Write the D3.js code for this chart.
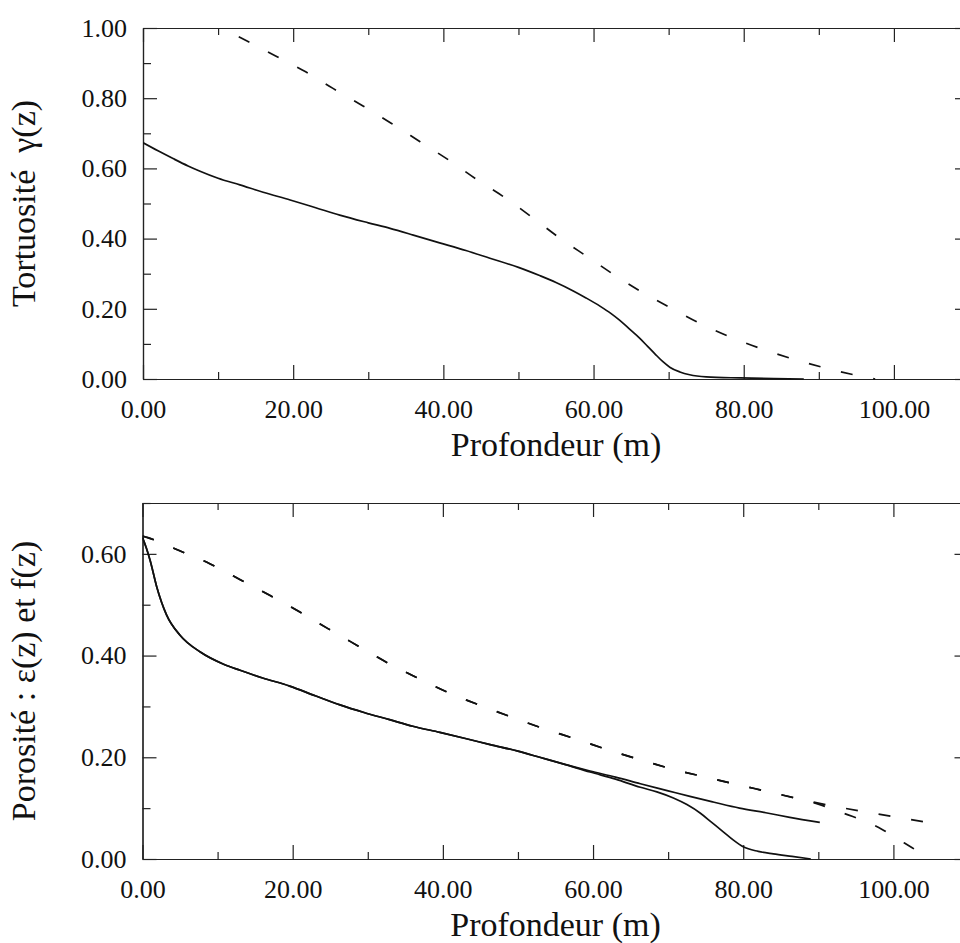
<!DOCTYPE html>
<html>
<head>
<meta charset="utf-8">
<script src="https://cdn.jsdelivr.net/npm/d3@7/dist/d3.min.js"></script>
<style>
  html, body { margin: 0; padding: 0; background: #fff; }
  svg { display: block; }
</style>
</head>
<body>
<svg id="chart" width="960" height="943"></svg>
<script>
// ---------------- DATA ----------------
const xMajorTicks = [0, 20, 40, 60, 80, 100];
const xTickLabels = ["0.00", "20.00", "40.00", "60.00", "80.00", "100.00"];
const xMinorTicks = [10, 30, 50, 70, 90, 110];

const topYMajor = [0, 0.2, 0.4, 0.6, 0.8, 1.0];
const topYLabels = ["0.00", "0.20", "0.40", "0.60", "0.80", "1.00"];
const topYMinor = [0.1, 0.3, 0.5, 0.7, 0.9];

const botYMajor = [0, 0.2, 0.4, 0.6];
const botYLabels = ["0.00", "0.20", "0.40", "0.60"];
const botYMinor = [0.1, 0.3, 0.5, 0.7];

const xTitle = "Profondeur (m)";
const topYTitle = "Tortuosité  γ(z)";
const botYTitle = "Porosité : ε(z) et f(z)";

// Tortuosity γ(z): solid
const tortSolid = [
  [0,0.673],[2,0.650],[4,0.628],[6,0.607],[7.6,0.592],[10,0.572],[12.9,0.553],[16,0.532],
  [19.6,0.510],[23,0.488],[26.2,0.467],[30,0.445],[32.9,0.429],[36,0.410],[39.5,0.388],
  [43,0.366],[46.2,0.344],[50,0.318],[52.9,0.294],[55,0.275],[57.3,0.251],[59,0.231],
  [60.9,0.207],[62.3,0.187],[63.5,0.167],[64.8,0.142],[66.2,0.115],[67.2,0.093],[68.2,0.071],
  [69.2,0.050],[70.2,0.033],[71.5,0.020],[72.8,0.012],[75,0.006],[79.5,0.003],[84,0.001],[88,0.0]
];
// Tortuosity: dashed
const tortDashed = [
  [10.5,1.0],[13.6,0.966],[17.6,0.921],[21.6,0.876],[25.3,0.828],[29.3,0.778],[33.1,0.728],
  [36.9,0.676],[40.7,0.624],[44.4,0.569],[48.1,0.518],[51.8,0.461],[55.4,0.403],[59.2,0.348],
  [62.8,0.296],[66.5,0.247],[70.5,0.200],[74.5,0.155],[78.6,0.116],[82.8,0.083],[87.2,0.053],
  [91.5,0.028],[95.8,0.007],[97.5,0.0]
];

// Porosity: solid curves (shared trunk, then two branches)
const poroSolidTrunk = [
  [0,0.632],[0.5,0.612],[1.0,0.588],[1.9,0.535],[3.2,0.480],[5.0,0.440],[7.7,0.407],
  [10.8,0.383],[13.0,0.371],[16,0.356],[19.6,0.340],[23,0.321],[26.3,0.303],[29.5,0.288],
  [32.9,0.274],[36,0.261],[39.6,0.249],[43,0.237],[46.3,0.225],[50,0.212],[52.9,0.200],
  [56,0.187]
];
const epsSolidTail = [
  [59.6,0.173],[63,0.161],[66.3,0.148],[70,0.134],[72.9,0.123],[76,0.112],[79.5,0.100],
  [83,0.091],[86.2,0.082],[90.2,0.072]
];
const fSolidTail = [
  [59.6,0.171],[63,0.157],[66.3,0.141],[68.5,0.132],[70.7,0.120],[72.5,0.107],[74.3,0.090],
  [75.8,0.072],[77.3,0.054],[78.7,0.037],[80,0.024],[82,0.015],[84,0.010],[86.5,0.005],[89,0.0]
];

// Porosity: dashed curves (shared trunk, then two branches)
const poroDashedTrunk = [
  [0,0.635],[0.7,0.632],[4.8,0.607],[8.9,0.581],[12.9,0.550],[17.0,0.518],[20.9,0.486],
  [24.7,0.453],[28.7,0.419],[32.6,0.386],[36.5,0.357],[40.6,0.328],[44.8,0.303],[49.0,0.280],
  [53.3,0.257],[57.7,0.236],[61.9,0.215],[66.1,0.196],[70.5,0.177],[75,0.161],[79.3,0.146],
  [83.7,0.131],[88,0.116]
];
const epsDashedTail = [[92,0.104],[96.9,0.091],[101.3,0.080],[105.3,0.070]];
const fDashedTail = [
  [90,0.108],[92.4,0.095],[94.5,0.084],[96.6,0.072],[98.5,0.058],[100.4,0.041],
  [102.5,0.022],[104.4,0.005],[105,0.0]
];

// ---------------- DRAW ----------------
const svg = d3.select("#chart");
const FONT = 26, TITLE = 34;
const FAMILY = "Liberation Serif";

function panel(cfg) {
  const x = d3.scaleLinear().domain([0, 110]).range([cfg.left, cfg.left + 826]);
  const y = d3.scaleLinear().domain(cfg.yDomain).range([cfg.bottom, cfg.top]);
  const g = svg.append("g");
  const clipId = "clip" + cfg.id;
  svg.append("clipPath").attr("id", clipId).append("rect")
    .attr("x", cfg.left).attr("y", cfg.top - 1)
    .attr("width", 826).attr("height", cfg.bottom - cfg.top + 2);

  function styleAxis(sel) {
    sel.attr("font-family", FAMILY).attr("font-size", FONT);
    sel.selectAll("path.domain").attr("stroke", "#222").attr("stroke-width", 1.2);
    sel.selectAll(".tick line").attr("stroke", "#222").attr("stroke-width", 1.2);
    sel.selectAll("text").attr("font-family", FAMILY).style("font-family", FAMILY)
      .attr("font-size", FONT).style("font-size", FONT + "px").attr("fill", "#111");
  }

  // bottom axis
  g.append("g").attr("transform", `translate(0,${cfg.bottom})`)
    .call(d3.axisBottom(x).tickValues(xMajorTicks).tickSize(-14).tickSizeOuter(0)
      .tickPadding(21).tickFormat((d, i) => xTickLabels[i]))
    .call(styleAxis);
  g.append("g").attr("transform", `translate(0,${cfg.bottom})`)
    .call(d3.axisBottom(x).tickValues(xMinorTicks).tickSize(-7).tickSizeOuter(0).tickFormat(""))
    .call(styleAxis);
  // top axis
  g.append("g").attr("transform", `translate(0,${cfg.top})`)
    .call(d3.axisTop(x).tickValues(xMajorTicks).tickSize(-14).tickSizeOuter(0).tickFormat(""))
    .call(styleAxis);
  g.append("g").attr("transform", `translate(0,${cfg.top})`)
    .call(d3.axisTop(x).tickValues(xMinorTicks).tickSize(-7).tickSizeOuter(0).tickFormat(""))
    .call(styleAxis);
  // left axis
  g.append("g").attr("transform", `translate(${cfg.left},0)`)
    .call(d3.axisLeft(y).tickValues(cfg.yMajor).tickSize(-14).tickSizeOuter(0)
      .tickPadding(16).tickFormat((d, i) => cfg.yLabels[i]))
    .call(styleAxis);
  g.append("g").attr("transform", `translate(${cfg.left},0)`)
    .call(d3.axisLeft(y).tickValues(cfg.yMinor).tickSize(-8).tickSizeOuter(0).tickFormat(""))
    .call(styleAxis);
  // right axis
  g.append("g").attr("transform", `translate(${x(110)},0)`)
    .call(d3.axisRight(y).tickValues(cfg.yMajor).tickSize(-14).tickSizeOuter(0).tickFormat(""))
    .call(styleAxis);
  g.append("g").attr("transform", `translate(${x(110)},0)`)
    .call(d3.axisRight(y).tickValues(cfg.yMinor).tickSize(-8).tickSizeOuter(0).tickFormat(""))
    .call(styleAxis);

  // titles
  g.append("text").attr("x", x(55)).attr("y", cfg.bottom + 77)
    .attr("text-anchor", "middle").attr("fill", "#111")
    .style("font-family", FAMILY).style("font-size", TITLE + "px").text(xTitle);
  g.append("text")
    .attr("transform", `translate(35,${(cfg.top + cfg.bottom) / 2}) rotate(-90)`)
    .attr("text-anchor", "middle").attr("fill", "#111")
    .style("font-family", FAMILY).style("font-size", TITLE + "px")
    .style("white-space", "pre").text(cfg.yTitle);

  const line = d3.line().x(d => x(d[0])).y(d => y(d[1])).curve(d3.curveMonotoneX);
  const lg = g.append("g").attr("clip-path", `url(#${clipId})`);
  cfg.series.forEach(s => {
    lg.append("path").attr("d", line(s.data)).attr("fill", "none")
      .attr("stroke", "#111").attr("stroke-width", 1.7)
      .attr("stroke-dasharray", s.dashed ? "12,21" : null)
      .attr("stroke-dashoffset", s.offset || 0);
  });
}

panel({
  id: "top", left: 143, top: 28, bottom: 379, yDomain: [0, 1],
  yMajor: topYMajor, yLabels: topYLabels, yMinor: topYMinor, yTitle: topYTitle,
  series: [
    { data: tortSolid },
    { data: tortDashed, dashed: true, offset: 14 }
  ]
});

panel({
  id: "bot", left: 142.5, top: 503, bottom: 859, yDomain: [0, 0.7],
  yMajor: botYMajor, yLabels: botYLabels, yMinor: botYMinor, yTitle: botYTitle,
  series: [
    { data: poroSolidTrunk.concat(epsSolidTail) },
    { data: poroSolidTrunk.concat(fSolidTail) },
    { data: poroDashedTrunk.concat(epsDashedTail), dashed: true },
    { data: poroDashedTrunk.concat(fDashedTail), dashed: true }
  ]
});
</script>
</body>
</html>
